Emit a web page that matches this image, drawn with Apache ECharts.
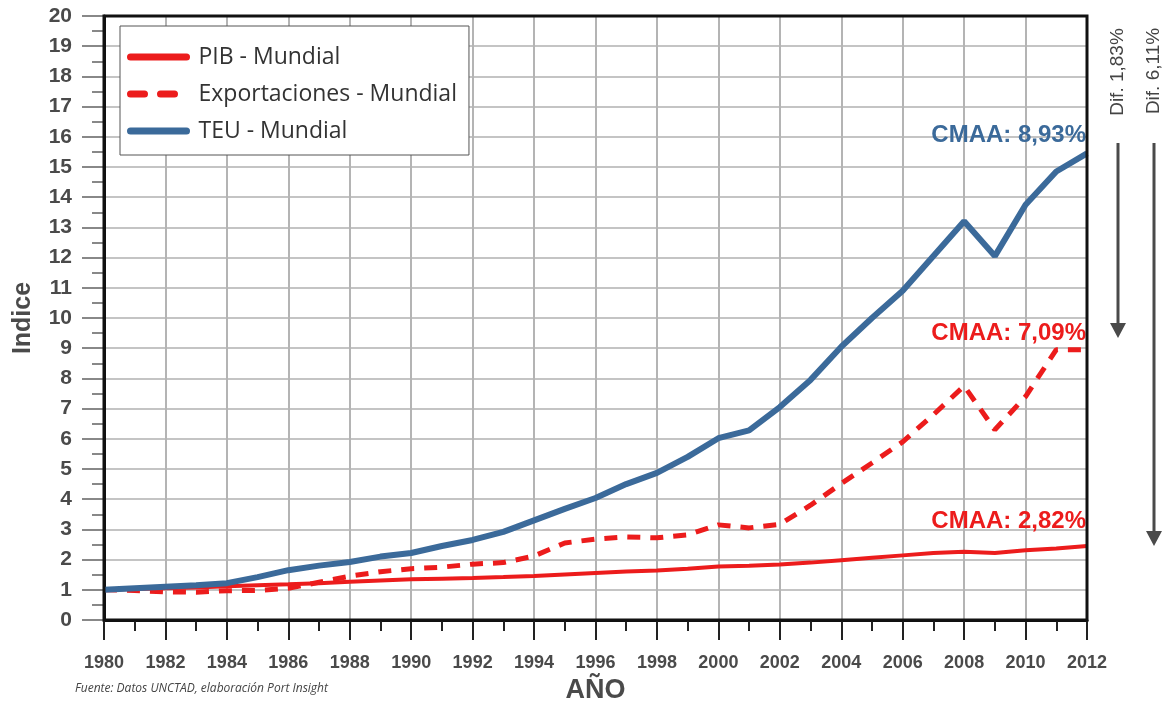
<!DOCTYPE html>
<html><head><meta charset="utf-8">
<script src="https://cdn.jsdelivr.net/npm/echarts@6/dist/echarts.min.js"></script>
<style>html,body{margin:0;padding:0;background:#fff}#c{width:1165px;height:702px}</style>
</head><body><div id="c"></div>
<script>
const years = [1980,1981,1982,1983,1984,1985,1986,1987,1988,1989,1990,1991,1992,1993,1994,1995,1996,1997,1998,1999,2000,2001,2002,2003,2004,2005,2006,2007,2008,2009,2010,2011,2012];
const pib = [1.00,1.03,1.05,1.08,1.12,1.15,1.18,1.22,1.27,1.31,1.35,1.37,1.39,1.42,1.46,1.51,1.56,1.61,1.64,1.70,1.77,1.80,1.84,1.90,1.98,2.06,2.14,2.22,2.26,2.22,2.31,2.37,2.45];
const exportaciones = [1.00,0.98,0.93,0.92,0.97,0.98,1.05,1.25,1.45,1.60,1.70,1.75,1.85,1.90,2.12,2.55,2.68,2.75,2.72,2.82,3.15,3.05,3.17,3.80,4.52,5.20,5.90,6.80,7.75,6.30,7.40,8.95,8.95];
const teu = [1.00,1.05,1.10,1.15,1.22,1.42,1.65,1.80,1.92,2.10,2.22,2.45,2.65,2.92,3.30,3.68,4.04,4.50,4.87,5.40,6.02,6.28,7.05,7.95,9.05,10.00,10.90,12.05,13.20,12.05,13.75,14.85,15.45];
const seriesNames = ['PIB - Mundial','Exportaciones - Mundial','TEU - Mundial'];
const cmaaLabels = ['CMAA: 2,82%','CMAA: 7,09%','CMAA: 8,93%'];
const difLabels = ['Dif. 1,83%','Dif. 6,11%'];
const footnote = 'Fuente: Datos UNCTAD, elaboración Port Insight';

const RED = '#ec1c1c', BLUE = '#3b6a9a', TXT = '#4a4a4a';

function pairs(vals) { return vals.map((v, i) => [years[i], v]); }
function endMark(vals, text, color, dist) {
  const last = vals.length - 1;
  return {
    silent: true, symbol: 'circle', symbolSize: 1, itemStyle: { color: 'rgba(0,0,0,0)' },
    label: { show: true, formatter: text, position: 'top', align: 'right', distance: dist, offset: [-1, 0],
      color: color, fontSize: 24, fontWeight: 'bold', fontFamily: 'Liberation Sans' },
    data: [{ coord: [years[last], vals[last]] }]
  };
}

const chart = echarts.init(document.getElementById('c'), null, {renderer: 'canvas'});
chart.setOption({
  animation: false,
  backgroundColor: '#fff',
  grid: { left: 104, right: 78, top: 16, bottom: 82, containLabel: false, outerBoundsMode: 'none',
    show: true, borderColor: '#111', borderWidth: 3, backgroundColor: 'transparent', z: 10 },
  legend: {
    orient: 'vertical', left: 120, top: 26,
    padding: [19, 12, 12, 7], itemGap: 13, itemWidth: 56, itemHeight: 14,
    backgroundColor: '#fff', borderColor: '#555', borderWidth: 1,
    itemStyle: { opacity: 0 },
    lineStyle: { width: 7, cap: 'round' },
    textStyle: { fontFamily: 'Open Sans', fontSize: 23, lineHeight: 24, color: '#333', padding: [0,0,0,7] },
    data: [
      { name: seriesNames[0] },
      { name: seriesNames[1], lineStyle: { type: [14, 16], width: 7, cap: 'round' } },
      { name: seriesNames[2] }
    ]
  },
  xAxis: {
    type: 'value', min: 1980, max: 2012, interval: 2,
    name: 'AÑO', nameLocation: 'middle', nameGap: 57,
    nameTextStyle: { fontFamily: 'Liberation Sans', fontWeight: 'bold', fontSize: 27, color: TXT },
    axisLine: { show: true, lineStyle: { color: '#111', width: 3 } },
    axisTick: { show: true, length: 20, lineStyle: { color: '#222', width: 2 } },
    minorTick: { show: true, splitNumber: 2, length: 11, lineStyle: { color: '#222', width: 2 } },
    axisLabel: { margin: 34, fontFamily: 'Liberation Sans', fontWeight: 'bold', fontSize: 18, color: TXT, formatter: v => String(v) },
    splitLine: { show: true, showMinLine: false, showMaxLine: false, lineStyle: { color: '#b4b4b4', width: 2 } }
  },
  yAxis: {
    type: 'value', min: 0, max: 20, interval: 1,
    name: 'Indice', nameLocation: 'middle', nameGap: 68,
    nameTextStyle: { fontFamily: 'Liberation Sans', fontWeight: 'bold', fontSize: 25, color: TXT },
    axisLine: { show: true, lineStyle: { color: '#111', width: 3 } },
    axisTick: { show: true, length: 22, lineStyle: { color: '#888', width: 2 } },
    minorTick: { show: true, splitNumber: 2, length: 12, lineStyle: { color: '#888', width: 2 } },
    axisLabel: { margin: 32, fontFamily: 'Liberation Sans', fontWeight: 'bold', fontSize: 21, color: TXT },
    splitLine: { show: true, showMinLine: false, showMaxLine: false, lineStyle: { color: '#c4c4c4', width: 2 } }
  },
  series: [
    { name: seriesNames[0], type: 'line', symbol: 'none', data: pairs(pib),
      lineStyle: { color: RED, width: 4 }, itemStyle: { color: RED }, z: 3,
      markPoint: endMark(pib, cmaaLabels[0], RED, 12) },
    { name: seriesNames[1], type: 'line', symbol: 'none', data: pairs(exportaciones),
      lineStyle: { color: RED, width: 5, type: [13, 10] }, itemStyle: { color: RED }, z: 4,
      markPoint: endMark(exportaciones, cmaaLabels[1], RED, 4) },
    { name: seriesNames[2], type: 'line', symbol: 'none', data: pairs(teu),
      lineStyle: { color: BLUE, width: 6 }, itemStyle: { color: BLUE }, z: 5,
      markPoint: endMark(teu, cmaaLabels[2], BLUE, 6) }
  ],
  graphic: [
    { type: 'text', left: 75, top: 683, style: { text: footnote, font: 'italic 12px "Open Sans"', fill: '#444' } },
    { type: 'text', x: 1118, y: 72, rotation: Math.PI / 2, style: { text: difLabels[0], font: '19px "Liberation Sans"', fill: '#444', align: 'center', verticalAlign: 'middle' } },
    { type: 'text', x: 1154, y: 71, rotation: Math.PI / 2, style: { text: difLabels[1], font: '19px "Liberation Sans"', fill: '#444', align: 'center', verticalAlign: 'middle' } },
    { type: 'line', shape: { x1: 1118, y1: 143, x2: 1118, y2: 326 }, style: { stroke: '#4a4a4a', lineWidth: 3 } },
    { type: 'polygon', shape: { points: [[1110, 323], [1126, 323], [1118, 338]] }, style: { fill: '#4a4a4a' } },
    { type: 'line', shape: { x1: 1154, y1: 143, x2: 1154, y2: 534 }, style: { stroke: '#4a4a4a', lineWidth: 3 } },
    { type: 'polygon', shape: { points: [[1146, 531], [1162, 531], [1154, 546]] }, style: { fill: '#4a4a4a' } }
  ]
});
</script></body></html>
